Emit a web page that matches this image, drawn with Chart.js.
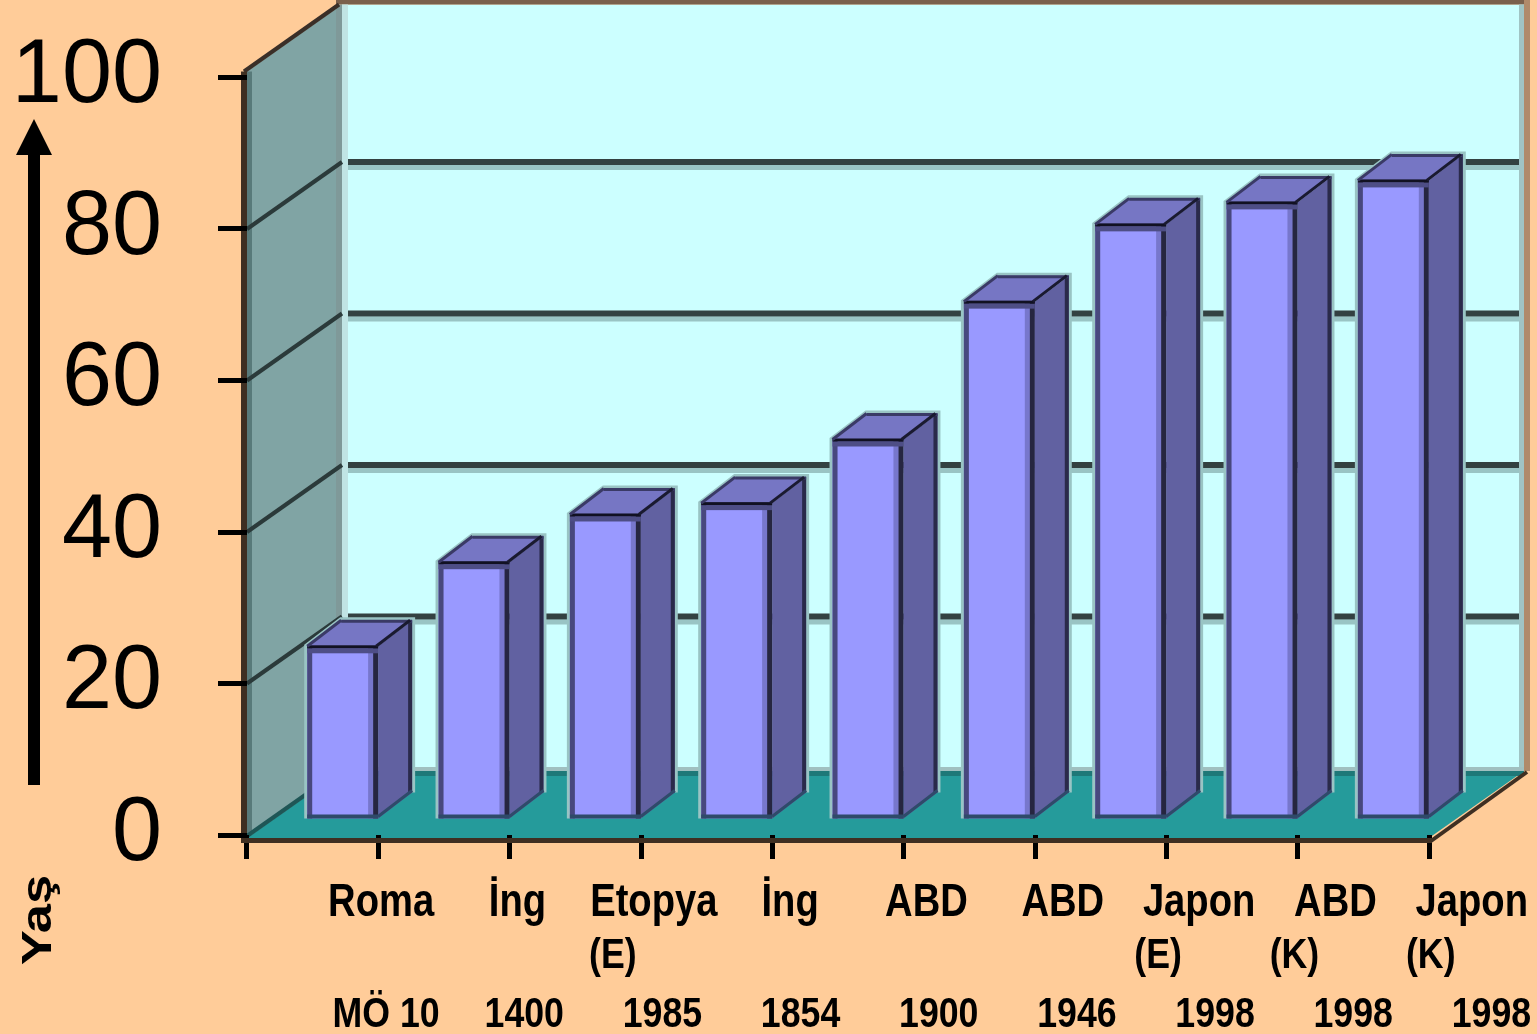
<!DOCTYPE html>
<html>
<head>
<meta charset="utf-8">
<script src="https://cdn.jsdelivr.net/npm/chart.js@4.4.0/dist/chart.umd.min.js"></script>
<style>
  html, body { margin: 0; padding: 0; background: #FFCC99; }
  #wrap { width: 1537px; height: 1034px; }
</style>
</head>
<body>
<div id="wrap"><canvas id="c" width="1537" height="1034"></canvas></div>
<script>
// ---- data ----
const categories = ['Roma', 'İng', 'Etopya', 'İng', 'ABD', 'ABD', 'Japon', 'ABD', 'Japon'];
const subLabels = ['', '', '(E)', '', '', '', '(E)', '(K)', '(K)'];
const years = ['MÖ 10', '1400', '1985', '1854', '1900', '1946', '1998', '1998', '1998'];
const lifeExpectancy = [22.8, 33.9, 40.2, 41.7, 50.1, 68.3, 78.5, 81.4, 84.3];
const yAxisTitle = 'Yaş';
const yMin = 0, yMax = 100, yStep = 20;

// ---- 3D look ----
const BACK_DX = 95, BACK_DY = -67;   // depth of walls/floor
const BAR_DX = 30, BAR_DY = -16;     // bar front plane
const TOP_DX = 34, TOP_DY = -26;     // bar depth
const PEACH = '#FFCC99';
const LABEL_FONT = '"Liberation Sans", Arial, sans-serif';

function narrowText(ctx, text, x, y, font, sx) {
  ctx.save();
  ctx.translate(x, y);
  ctx.scale(sx, 1);
  ctx.font = font;
  ctx.textAlign = 'center';
  ctx.textBaseline = 'alphabetic';
  ctx.fillStyle = '#000';
  ctx.fillText(text, 0, 0);
  ctx.restore();
}

function line(ctx, x1, y1, x2, y2, color, w) {
  ctx.beginPath();
  ctx.moveTo(x1, y1); ctx.lineTo(x2, y2);
  ctx.strokeStyle = color; ctx.lineWidth = w; ctx.stroke();
}

function poly(ctx, pts, fill) {
  ctx.beginPath();
  ctx.moveTo(pts[0][0], pts[0][1]);
  for (let i = 1; i < pts.length; i++) ctx.lineTo(pts[i][0], pts[i][1]);
  ctx.closePath();
  ctx.fillStyle = fill; ctx.fill();
}

const threeD = {
  id: 'threeD',
  beforeDraw(chart) {
    const { ctx, chartArea: a, scales: { y } } = chart;
    ctx.save();
    ctx.fillStyle = PEACH;
    ctx.fillRect(0, 0, chart.width, chart.height);
    const y0 = y.getPixelForValue(0);
    const yTop = y.getPixelForValue(yMax) - 6;
    const L = a.left, R = a.right;
    const bL = L + BACK_DX, bR = R + BACK_DX;
    const fy = y0 + 3;
    const bTop = yTop + BACK_DY, bBot = fy + BACK_DY;

    // back wall
    ctx.fillStyle = '#CCFFFF';
    ctx.fillRect(bL, bTop, bR - bL, bBot - bTop);
    // back wall grid lines
    y.ticks.forEach(t => {
      if (t.value <= yMin || t.value >= yMax) return;
      const gy = y.getPixelForValue(t.value) + BACK_DY;
      ctx.fillStyle = '#99C4C4';
      ctx.fillRect(bL, gy + 3, bR - bL, 5);
      ctx.fillStyle = '#334141';
      ctx.fillRect(bL, gy - 3, bR - bL, 6);
    });
    // back wall borders
    ctx.fillStyle = '#7A604C';
    ctx.fillRect(bL - 6, bTop - 5, bR - bL + 12, 5);
    ctx.fillStyle = '#A0C4C4';
    ctx.fillRect(bR - 5, bTop, 5, bBot - bTop);
    ctx.fillStyle = '#B08A6A';
    ctx.fillRect(bR, bTop - 5, 6, bBot - bTop + 5);

    // side wall
    poly(ctx, [[L, yTop], [bL, bTop], [bL, bBot], [L, fy]], '#80A4A4');
    ctx.fillStyle = '#7F9999';
    ctx.fillRect(bL - 6, bTop, 6, bBot - bTop);
    ctx.fillStyle = '#C0E4E4';
    ctx.fillRect(bL, bTop, 6, bBot - bTop);
    ctx.fillStyle = '#587A7A';
    ctx.fillRect(L, yTop, 5, fy - yTop);
    y.ticks.forEach(t => {
      if (t.value <= yMin || t.value >= yMax) return;
      const gy = y.getPixelForValue(t.value);
      line(ctx, L, gy, bL, gy + BACK_DY, '#2B3A3A', 4);
    });
    line(ctx, L - 3, yTop, bL - 3, bTop, '#3A2F28', 4);

    // floor
    poly(ctx, [[L, fy], [bL, bBot], [bR, bBot], [R, fy]], '#259B9B');
    ctx.fillStyle = '#A0C0C0';
    ctx.fillRect(bL, bBot - 4, bR - bL, 4);
    ctx.fillStyle = '#1E7878';
    ctx.fillRect(bL, bBot, bR - bL, 5);
    line(ctx, L, fy - 2, bL, bBot - 2, '#1F5656', 4);

    // left wall edge
    ctx.fillStyle = '#3F2F22';
    ctx.fillRect(L - 6, yTop, 6, fy + 5 - yTop);
    ctx.restore();
  },
  beforeDatasetsDraw(chart) {
    const ctx = chart.ctx;
    // halo behind bars
    ctx.save();
    chart.getDatasetMeta(0).data.forEach(el => {
      const l = el.x - el.width / 2 + BAR_DX, r = el.x + el.width / 2 + BAR_DX;
      const t = el.y + BAR_DY, b = el.base + BAR_DY;
      ctx.beginPath();
      ctx.moveTo(l, b); ctx.lineTo(l, t); ctx.lineTo(l + TOP_DX, t + TOP_DY);
      ctx.lineTo(r + TOP_DX, t + TOP_DY); ctx.lineTo(r + TOP_DX, b + TOP_DY);
      ctx.strokeStyle = '#99C4C4'; ctx.lineWidth = 6; ctx.stroke();
    });
    ctx.restore();
    ctx.save();
    ctx.translate(BAR_DX, BAR_DY);
  },
  afterDatasetsDraw(chart) {
    const ctx = chart.ctx;
    ctx.restore();
    ctx.save();
    chart.getDatasetMeta(0).data.forEach(el => {
      const l = el.x - el.width / 2 + BAR_DX, r = el.x + el.width / 2 + BAR_DX;
      const t = el.y + BAR_DY, b = el.base + BAR_DY;
      // side face
      poly(ctx, [[r, t], [r + TOP_DX, t + TOP_DY], [r + TOP_DX, b + TOP_DY], [r, b]], '#6161A1');
      // top face
      poly(ctx, [[l, t], [l + TOP_DX, t + TOP_DY], [r + TOP_DX, t + TOP_DY], [r, t]], '#7676C4');
      // edges
      ctx.fillStyle = '#48487E'; ctx.fillRect(l, t, 5, b - t);
      ctx.fillStyle = '#7777CC'; ctx.fillRect(r - 10, t, 5, b - t);
      ctx.fillStyle = '#262640'; ctx.fillRect(r - 5, t, 5, b - t);
      ctx.fillStyle = '#4E4E86'; ctx.fillRect(l, t + 2, r - l, 5);
      ctx.fillStyle = '#111122'; ctx.fillRect(l, t - 1, r - l, 3);
      ctx.fillStyle = '#2F4A6A'; ctx.fillRect(l, b - 4, r - l, 4);
      ctx.fillStyle = '#2A2A4A'; ctx.fillRect(r + TOP_DX - 4, t + TOP_DY, 4, b - t);
      line(ctx, l + TOP_DX, t + TOP_DY + 1, r + TOP_DX, t + TOP_DY + 1, '#3A3A66', 3);
      line(ctx, l, t, l + TOP_DX, t + TOP_DY, '#3A3A66', 3);
      line(ctx, r - 2, t, r + TOP_DX - 2, t + TOP_DY, '#1A1A30', 3);
      line(ctx, r, b - 2, r + TOP_DX, b + TOP_DY - 2, '#2F4A6A', 3);
    });
    ctx.restore();
  },
  afterDraw(chart) {
    const { ctx, chartArea: a, scales: { x, y } } = chart;
    ctx.save();
    const y0 = y.getPixelForValue(0);
    const fy = y0 + 3;
    const L = a.left, R = a.right;
    // floor front edge and right edge
    ctx.fillStyle = '#3F2F22';
    ctx.fillRect(L - 6, fy, R - L + 9, 5);
    line(ctx, R + 2, fy + 3, R + BACK_DX + 3, fy + BACK_DY + 1, '#3F2F22', 4);

    // arrow
    ctx.fillStyle = '#000';
    ctx.fillRect(28, 152, 12, 633);
    poly(ctx, [[34, 119], [52, 155], [16, 155]], '#000');

    // axis title
    ctx.save();
    ctx.translate(51, 920);
    ctx.rotate(-Math.PI / 2);
    ctx.scale(1.22, 1);
    ctx.font = 'bold 43px ' + LABEL_FONT;
    ctx.textAlign = 'center';
    ctx.textBaseline = 'alphabetic';
    ctx.fillStyle = '#000';
    ctx.fillText(yAxisTitle, 0, 0);
    ctx.restore();

    // category labels
    categories.forEach((name, i) => {
      const c = x.getPixelForValue(i);
      const nx = L + (c - L) * 1.038 + 66;
      const yx = L + (c - L) * 1.052 + 70;
      narrowText(ctx, name, nx, 916, 'bold 46px ' + LABEL_FONT, 0.83);
      if (subLabels[i]) narrowText(ctx, subLabels[i], nx - 41, 968, 'bold 43px ' + LABEL_FONT, 0.83);
      narrowText(ctx, years[i], yx, 1027, 'bold 43px ' + LABEL_FONT, 0.83);
    });
    ctx.restore();
  }
};

new Chart(document.getElementById('c'), {
  type: 'bar',
  data: {
    labels: categories.map((c, i) => [c, subLabels[i], years[i]]),
    datasets: [{
      data: lifeExpectancy,
      backgroundColor: '#9999FF',
      borderWidth: 0,
      categoryPercentage: 1,
      barPercentage: 0.54,
      clip: false
    }]
  },
  options: {
    responsive: false,
    devicePixelRatio: 1,
    animation: false,
    events: [],
    layout: { padding: { top: 77.5, right: 108, left: 0, bottom: 0 } },
    plugins: { legend: { display: false }, tooltip: { enabled: false }, title: { display: false } },
    scales: {
      x: {
        grid: { drawOnChartArea: false, drawTicks: true, tickLength: 24, tickWidth: 5, tickColor: '#000', offset: true },
        border: { display: false },
        ticks: { display: false },
        afterFit: s => { s.height = 199; s.paddingLeft = 0; s.paddingRight = 0; }
      },
      y: {
        min: yMin, max: yMax,
        grid: { drawOnChartArea: false, drawTicks: true, tickLength: 29, tickWidth: 5, tickColor: '#000' },
        border: { display: false },
        ticks: { stepSize: yStep, padding: 56, color: '#000', font: { family: LABEL_FONT, size: 90 } },
        afterFit: s => { s.width = 247; s.paddingTop = 0; s.paddingBottom = 0; }
      }
    }
  },
  plugins: [threeD]
});
</script>
</body>
</html>
